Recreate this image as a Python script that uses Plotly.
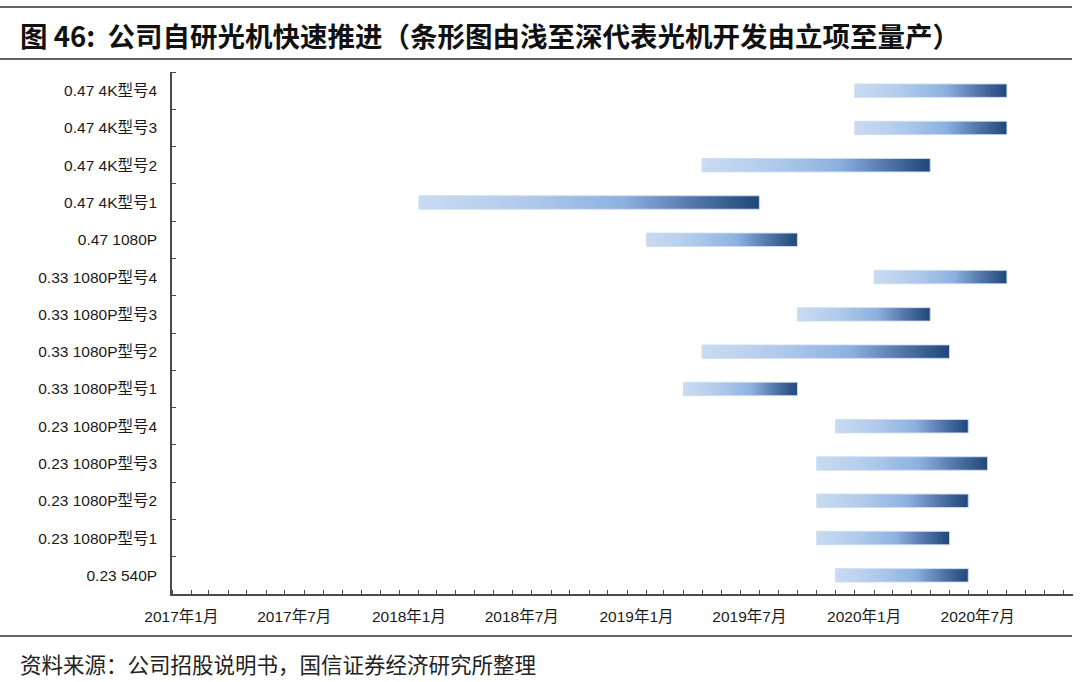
import pandas as pd
import plotly.graph_objects as go

# ---------------- data ----------------
models = [
    "0.47 4K型号4", "0.47 4K型号3", "0.47 4K型号2", "0.47 4K型号1", "0.47 1080P",
    "0.33 1080P型号4", "0.33 1080P型号3", "0.33 1080P型号2", "0.33 1080P型号1",
    "0.23 1080P型号4", "0.23 1080P型号3", "0.23 1080P型号2", "0.23 1080P型号1",
    "0.23 540P",
]
# month the project starts (立项) and the month boundary where it reaches mass production (量产)
start_months = [
    "2020-01", "2020-01", "2019-05", "2018-02", "2019-02",
    "2020-02", "2019-10", "2019-05", "2019-04",
    "2019-12", "2019-11", "2019-11", "2019-11",
    "2019-12",
]
end_months = [
    "2020-09", "2020-09", "2020-05", "2019-08", "2019-10",
    "2020-09", "2020-05", "2020-06", "2019-10",
    "2020-07", "2020-08", "2020-07", "2020-06",
    "2020-07",
]
tick_months = ["2017-01", "2017-07", "2018-01", "2018-07",
               "2019-01", "2019-07", "2020-01", "2020-07"]
tick_labels = ["2017年1月", "2017年7月", "2018年1月", "2018年7月",
               "2019年1月", "2019年7月", "2020年1月", "2020年7月"]

title_text = "图 46:  公司自研光机快速推进（条形图由浅至深代表光机开发由立项至量产）"
source_text = "资料来源：公司招股说明书，国信证券经济研究所整理"

# ---------------- style ----------------
W, H = 1080, 682
L, R, T, B = 172, 7, 72, 88
AXIS_COLOR = "#4a4a4a"
TEXT_COLOR = "#1a1a1a"
GRAD = [[0.0, "#c9dbf1"], [0.3, "#b2cbec"], [0.6, "#8cb1e0"],
        [0.8, "#5478ab"], [1.0, "#1f4778"]]
HALF = 0.18
LABEL_FONT = "Liberation Sans, Arial, Noto Sans CJK SC, sans-serif"


def px_x(px):
    return (px - L) / (W - L - R)


def px_y(py):
    return ((H - B) - py) / (H - T - B)


fig = go.Figure()
for i, (s, e) in enumerate(zip(start_months, end_months)):
    x0 = pd.Timestamp(s + "-01")
    x1 = pd.Timestamp(e + "-01")
    fig.add_trace(go.Scatter(
        x=[x0, x1, x1, x0, x0],
        y=[i - HALF, i - HALF, i + HALF, i + HALF, i - HALF],
        mode="lines",
        fill="toself",
        fillgradient=dict(type="horizontal", colorscale=GRAD),
        line=dict(color="rgba(205,220,240,0.9)", width=1),
        name=models[i],
        showlegend=False,
        hoverinfo="name",
    ))

tickvals = [pd.Timestamp(m + "-01") + pd.Timedelta(days=15) for m in tick_months]

fig.update_layout(
    width=W, height=H,
    margin=dict(l=L, r=R, t=T, b=B),
    paper_bgcolor="white", plot_bgcolor="white",
    font=dict(family=LABEL_FONT, color=TEXT_COLOR),
    xaxis=dict(
        type="date",
        range=[pd.Timestamp("2017-01-01"), pd.Timestamp("2020-12-16")],
        tickvals=tickvals, ticktext=tick_labels,
        ticks="", showgrid=False, zeroline=False,
        showline=True, linecolor=AXIS_COLOR, linewidth=1.5,
        tickfont=dict(size=15.5, color=TEXT_COLOR, family=LABEL_FONT),
        ticklabelstandoff=8,
        minor=dict(ticks="inside", ticklen=4, tickwidth=1.2, tickcolor=AXIS_COLOR,
                   dtick="M1", tick0="2017-01-01", showgrid=False),
    ),
    yaxis=dict(
        range=[len(models) - 0.5, -0.5],
        tickvals=list(range(len(models))), ticktext=models,
        ticks="", showgrid=False, zeroline=False,
        showline=True, linecolor=AXIS_COLOR, linewidth=1.5,
        tickfont=dict(size=15.5, color=TEXT_COLOR, family=LABEL_FONT),
        ticklabelstandoff=10,
        minor=dict(ticks="inside", ticklen=4, tickwidth=1.2, tickcolor=AXIS_COLOR,
                   tick0=0.5, dtick=1, showgrid=False),
    ),
    shapes=[
        dict(type="line", xref="paper", yref="paper",
             x0=px_x(0), x1=px_x(1072), y0=px_y(7), y1=px_y(7),
             line=dict(color="#666666", width=2)),
        dict(type="line", xref="paper", yref="paper",
             x0=px_x(0), x1=px_x(1072), y0=px_y(59), y1=px_y(59),
             line=dict(color="#666666", width=2)),
        dict(type="line", xref="paper", yref="paper",
             x0=px_x(0), x1=px_x(1072), y0=px_y(636), y1=px_y(636),
             line=dict(color="#666666", width=2)),
    ],
    annotations=[
        dict(text="<b>" + title_text + "</b>", xref="paper", yref="paper",
             x=px_x(18), y=px_y(35), xanchor="left", yanchor="middle",
             showarrow=False,
             font=dict(size=27.5, color="#111111",
                       family="Noto Sans CJK SC, Liberation Sans, sans-serif")),
        dict(text=source_text, xref="paper", yref="paper",
             x=px_x(18), y=px_y(663), xanchor="left", yanchor="middle",
             showarrow=False,
             font=dict(size=21.5, color="#222222",
                       family="Noto Sans CJK SC, Liberation Sans, sans-serif")),
    ],
)

fig.write_html("out.html", config={"displayModeBar": False},
               post_script="document.body.style.margin='0px';")
